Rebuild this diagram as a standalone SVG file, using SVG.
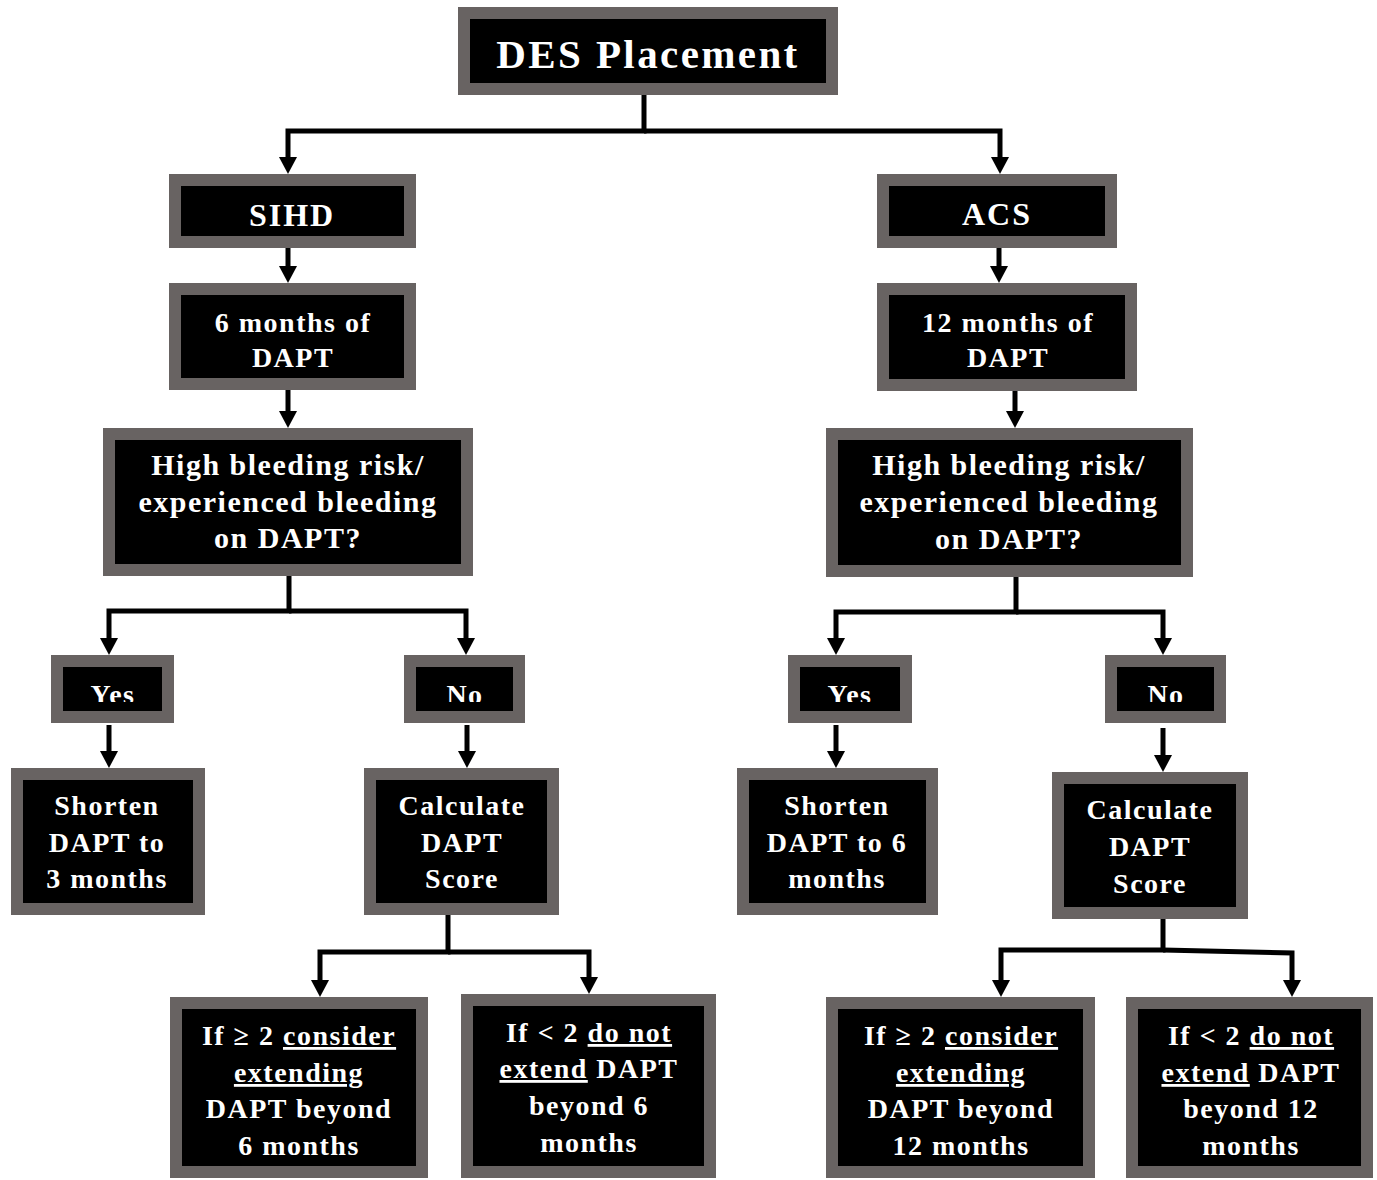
<svg xmlns="http://www.w3.org/2000/svg" width="1377" height="1180" viewBox="0 0 1377 1180">
<style>
.box{fill:#000;stroke:#686362;stroke-width:12}
.t{font-family:"Liberation Serif","Times New Roman",serif;font-weight:bold;fill:#fff;text-anchor:middle;font-size:28px;letter-spacing:1.5px}
.t30{font-size:30px}
.u{text-decoration:underline}
.c{fill:none;stroke:#000;stroke-width:5;marker-end:url(#ah)}
.l{fill:none;stroke:#000;stroke-width:5}
</style>
<defs>
<marker id="ah" markerUnits="userSpaceOnUse" markerWidth="20" markerHeight="20" refX="7" refY="9" orient="auto">
<path d="M0,0 L17,9 L0,18 z" fill="#000"/>
</marker>
<clipPath id="yn"><rect x="0" y="640" width="1377" height="62"/></clipPath>
</defs>
<g id="connectors">
<path class="c" d="M644,95 V131 H288 V164"/>
<path class="c" d="M644,131 H1000 V164"/>
<path class="c" d="M288,248 V273"/>
<path class="c" d="M999,248 V273"/>
<path class="c" d="M288,390 V418"/>
<path class="c" d="M1015,391 V418"/>
<path class="c" d="M289,576 V611 H109 V645"/>
<path class="c" d="M289,611 H466 V645"/>
<path class="c" d="M1016,577 V612 H836 V645"/>
<path class="c" d="M1016,612 H1163 V645"/>
<path class="c" d="M109,725 V758"/>
<path class="c" d="M467,725 V758"/>
<path class="c" d="M836,725 V758"/>
<path class="c" d="M1163,728 V762"/>
<path class="c" d="M448,915 V952 H320 V987"/>
<path class="c" d="M448,952 H589 V984"/>
<path class="c" d="M1163,919 V950 H1001 V987"/>
<path class="c" d="M1163,950 L1292,953 V987"/>
</g>
<g id="des">
<rect class="box" x="464" y="13" width="368" height="76"/>
<text class="t" x="648" y="68" style="font-size:41px;letter-spacing:2.4px">DES Placement</text>
</g>
<g id="sihd">
<rect class="box" x="175" y="180" width="235" height="62"/>
<text class="t" x="292" y="226" style="font-size:32px;letter-spacing:2px">SIHD</text>
</g>
<g id="acs">
<rect class="box" x="883" y="180" width="228" height="62"/>
<text class="t" x="997" y="225" style="font-size:32px;letter-spacing:2px">ACS</text>
</g>
<g id="six-months">
<rect class="box" x="175" y="289" width="235" height="95"/>
<text class="t" x="293" y="332">6 months of</text>
<text class="t" x="293" y="367">DAPT</text>
</g>
<g id="twelve-months">
<rect class="box" x="883" y="289" width="248" height="96"/>
<text class="t" x="1008" y="332">12 months of</text>
<text class="t" x="1008" y="367">DAPT</text>
</g>
<g id="bleed-left">
<rect class="box" x="109" y="434" width="358" height="136"/>
<text class="t t30" x="288" y="475">High bleeding risk/</text>
<text class="t t30" x="288" y="512">experienced bleeding</text>
<text class="t t30" x="288" y="548">on DAPT?</text>
</g>
<g id="bleed-right">
<rect class="box" x="832" y="434" width="355" height="137"/>
<text class="t t30" x="1009" y="475">High bleeding risk/</text>
<text class="t t30" x="1009" y="512">experienced bleeding</text>
<text class="t t30" x="1009" y="549">on DAPT?</text>
</g>
<g id="yes-left">
<rect class="box" x="57" y="661" width="111" height="56"/>
<text class="t" x="113" y="704" clip-path="url(#yn)">Yes</text>
</g>
<g id="no-left">
<rect class="box" x="410" y="661" width="109" height="56"/>
<text class="t" x="465" y="704" clip-path="url(#yn)">No</text>
</g>
<g id="yes-right">
<rect class="box" x="794" y="661" width="112" height="56"/>
<text class="t" x="850" y="704" clip-path="url(#yn)">Yes</text>
</g>
<g id="no-right">
<rect class="box" x="1111" y="661" width="109" height="56"/>
<text class="t" x="1166" y="704" clip-path="url(#yn)">No</text>
</g>
<g id="shorten-left">
<rect class="box" x="17" y="774" width="182" height="135"/>
<text class="t" x="107" y="815">Shorten</text>
<text class="t" x="107" y="852">DAPT to</text>
<text class="t" x="107" y="888">3 months</text>
</g>
<g id="calc-left">
<rect class="box" x="370" y="774" width="183" height="135"/>
<text class="t" x="462" y="815">Calculate</text>
<text class="t" x="462" y="852">DAPT</text>
<text class="t" x="462" y="888">Score</text>
</g>
<g id="shorten-right">
<rect class="box" x="743" y="774" width="189" height="135"/>
<text class="t" x="837" y="815">Shorten</text>
<text class="t" x="837" y="852">DAPT to 6</text>
<text class="t" x="837" y="888">months</text>
</g>
<g id="calc-right">
<rect class="box" x="1058" y="778" width="184" height="135"/>
<text class="t" x="1150" y="819">Calculate</text>
<text class="t" x="1150" y="856">DAPT</text>
<text class="t" x="1150" y="893">Score</text>
</g>
<g id="extend-left">
<rect class="box" x="176" y="1003" width="246" height="169"/>
<text class="t" x="299" y="1045">If ≥ 2 <tspan class="u">consider</tspan></text>
<text class="t" x="299" y="1082"><tspan class="u">extending</tspan></text>
<text class="t" x="299" y="1118">DAPT beyond</text>
<text class="t" x="299" y="1155">6 months</text>
</g>
<g id="noextend-left">
<rect class="box" x="467" y="1000" width="243" height="172"/>
<text class="t" x="589" y="1042">If &lt; 2 <tspan class="u">do not</tspan></text>
<text class="t" x="589" y="1078"><tspan class="u">extend</tspan> DAPT</text>
<text class="t" x="589" y="1115">beyond 6</text>
<text class="t" x="589" y="1152">months</text>
</g>
<g id="extend-right">
<rect class="box" x="832" y="1003" width="257" height="169"/>
<text class="t" x="961" y="1045">If ≥ 2 <tspan class="u">consider</tspan></text>
<text class="t" x="961" y="1082"><tspan class="u">extending</tspan></text>
<text class="t" x="961" y="1118">DAPT beyond</text>
<text class="t" x="961" y="1155">12 months</text>
</g>
<g id="noextend-right">
<rect class="box" x="1132" y="1003" width="235" height="169"/>
<text class="t" x="1251" y="1045">If &lt; 2 <tspan class="u">do not</tspan></text>
<text class="t" x="1251" y="1082"><tspan class="u">extend</tspan> DAPT</text>
<text class="t" x="1251" y="1118">beyond 12</text>
<text class="t" x="1251" y="1155">months</text>
</g>
</svg>
